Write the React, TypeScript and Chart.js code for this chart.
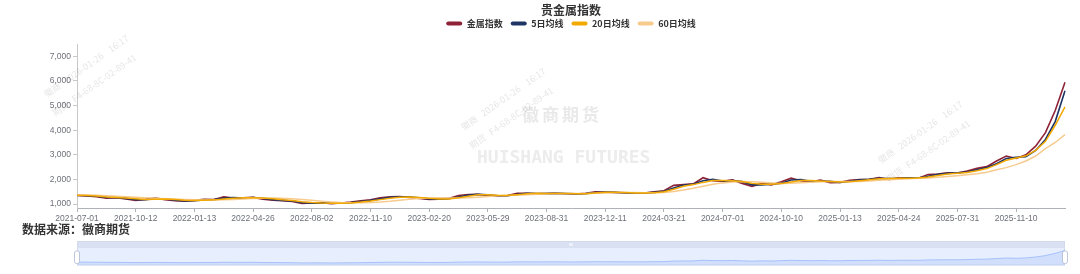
import React, { useEffect, useRef } from 'react';
import { Chart, registerables } from 'chart.js';

Chart.register(...registerables);

// ---------------- data ----------------
const CATEGORIES = [
  '2021-07-01', '2021-07-16', '2021-08-02', '2021-08-17', '2021-09-01', '2021-09-16',
  '2021-10-12', '2021-10-27', '2021-11-11', '2021-11-26', '2021-12-13', '2021-12-28',
  '2022-01-13', '2022-01-28', '2022-02-22', '2022-03-09', '2022-03-24', '2022-04-08',
  '2022-04-26', '2022-05-17', '2022-06-01', '2022-06-16', '2022-07-01', '2022-07-18',
  '2022-08-02', '2022-08-17', '2022-09-01', '2022-09-16', '2022-10-10', '2022-10-25',
  '2022-11-10', '2022-11-25', '2022-12-12', '2022-12-27', '2023-01-11', '2023-02-01',
  '2023-02-20', '2023-03-07', '2023-03-22', '2023-04-07', '2023-04-24', '2023-05-12',
  '2023-05-29', '2023-06-13', '2023-06-30', '2023-07-17', '2023-08-01', '2023-08-16',
  '2023-08-31', '2023-09-15', '2023-10-09', '2023-10-24', '2023-11-08', '2023-11-23',
  '2023-12-11', '2023-12-26', '2024-01-10', '2024-01-25', '2024-02-08', '2024-03-06',
  '2024-03-21', '2024-04-08', '2024-04-23', '2024-05-13', '2024-05-28', '2024-06-13',
  '2024-07-01', '2024-07-16', '2024-07-31', '2024-08-15', '2024-08-30', '2024-09-13',
  '2024-10-10', '2024-10-25', '2024-11-11', '2024-11-26', '2024-12-11', '2024-12-26',
  '2025-01-13', '2025-02-05', '2025-02-20', '2025-03-07', '2025-03-24', '2025-04-08',
  '2025-04-24', '2025-05-15', '2025-05-30', '2025-06-17', '2025-07-02', '2025-07-16',
  '2025-07-31', '2025-08-14', '2025-08-29', '2025-09-15', '2025-09-26', '2025-10-24',
  '2025-11-10', '2025-11-25', '2025-12-10', '2025-12-25', '2026-01-12', '2026-01-26',
];

const INDEX_VALUES = [
  1350, 1330, 1300, 1240, 1260, 1210, 1150, 1190, 1240, 1180,
  1140, 1120, 1150, 1190, 1180, 1290, 1240, 1250, 1270, 1200,
  1160, 1140, 1110, 1020, 1040, 1050, 1010, 1040, 1080, 1130,
  1170, 1250, 1290, 1300, 1270, 1230, 1190, 1200, 1230, 1350,
  1390, 1400, 1350, 1330, 1350, 1440, 1440, 1420, 1430, 1440,
  1420, 1410, 1440, 1500, 1480, 1470, 1450, 1440, 1450, 1500,
  1540, 1760, 1790, 1820, 2070, 1950, 1920, 1980, 1840, 1720,
  1840, 1780, 1910, 2050, 1950, 1900, 1970, 1870, 1880, 1970,
  2000, 2010, 2080, 2000, 2070, 2060, 2050, 2200, 2220, 2270,
  2260, 2340, 2450, 2520, 2750, 2950, 2850, 3000, 3350, 3900,
  4800, 5950,
];

const MA5_VALUES = [
  1355, 1340, 1315, 1270, 1255, 1230, 1180, 1175, 1215, 1205,
  1160, 1130, 1140, 1170, 1185, 1240, 1260, 1245, 1260, 1230,
  1180, 1150, 1125, 1060, 1035, 1045, 1030, 1030, 1060, 1105,
  1150, 1210, 1270, 1295, 1285, 1250, 1210, 1195, 1215, 1290,
  1370, 1395, 1375, 1340, 1340, 1395, 1440, 1430, 1425, 1435,
  1430, 1415, 1425, 1470, 1490, 1475, 1460, 1445, 1445, 1475,
  1520, 1650, 1775, 1805, 1945, 2010, 1935, 1950, 1910, 1780,
  1780, 1810, 1845, 1980, 2000, 1925, 1935, 1920, 1875, 1925,
  1985, 2005, 2045, 2040, 2035, 2065, 2055, 2125, 2210, 2245,
  2265, 2300, 2395, 2485, 2635, 2850, 2900, 2925, 3175, 3625,
  4350, 5600,
];

const MA20_VALUES = [
  1360, 1345, 1325, 1290, 1265, 1245, 1215, 1190, 1195, 1205,
  1185, 1150, 1140, 1155, 1170, 1210, 1235, 1255, 1255, 1245,
  1215, 1175, 1145, 1095, 1060, 1040, 1035, 1035, 1045, 1080,
  1125, 1180, 1235, 1280, 1290, 1270, 1235, 1210, 1210, 1260,
  1320, 1375, 1380, 1355, 1345, 1380, 1420, 1435, 1430, 1430,
  1430, 1420, 1420, 1450, 1475, 1480, 1465, 1450, 1445, 1460,
  1500, 1600, 1720, 1790, 1880, 1960, 1960, 1950, 1920, 1840,
  1800, 1800, 1830, 1900, 1960, 1960, 1940, 1920, 1900, 1910,
  1950, 1990, 2030, 2040, 2045, 2050, 2055, 2100, 2160, 2220,
  2250, 2285, 2350, 2440, 2600, 2780, 2870, 2960, 3180, 3550,
  4200, 4950,
];

const MA60_VALUES = [
  1370, 1365, 1355, 1340, 1320, 1300, 1280, 1255, 1235, 1220,
  1205, 1190, 1175, 1165, 1165, 1175, 1190, 1205, 1225, 1240,
  1245, 1235, 1215, 1185, 1150, 1115, 1085, 1060, 1050, 1050,
  1060, 1080, 1110, 1150, 1195, 1230, 1250, 1255, 1250, 1245,
  1255, 1280, 1310, 1335, 1350, 1365, 1380, 1395, 1410, 1425,
  1430, 1430, 1430, 1435, 1445, 1455, 1465, 1465, 1460, 1460,
  1470, 1510, 1570, 1640, 1720, 1800, 1860, 1900, 1920, 1910,
  1885, 1860, 1840, 1850, 1870, 1890, 1910, 1920, 1920, 1915,
  1920, 1940, 1965, 1990, 2010, 2030, 2045, 2060, 2085, 2115,
  2150, 2190, 2235, 2290, 2390, 2480, 2600, 2750, 2950, 3250,
  3500, 3820,
];

const SERIES_NAMES = ['金属指数', '5日均线', '20日均线', '60日均线'];
const SERIES_COLORS = ['#8E2236', '#1E3566', '#F2A900', '#F7CA8E'];
const Y_TICKS = [1000, 2000, 3000, 4000, 5000, 6000, 7000];
const Y_MIN = 840;
const Y_MAX = 7500;
const X_LABEL_EVERY = 6;
const TITLE = '贵金属指数';
const SOURCE_TEXT = '数据来源：徽商期货';

const CJK = '"Noto Sans CJK SC", "Noto Sans", sans-serif';
const AXIS_FONT = '"Liberation Sans", Arial, sans-serif';

// ---------------- plugins ----------------
const legendGap = {
  id: 'legendGap',
  beforeLayout(chart: any) {
    const lg = chart.legend;
    if (lg && !lg._gapPatched) {
      const orig = lg.fit;
      lg.fit = function () {
        orig.call(this);
        this.height += 6;
      };
      lg._gapPatched = true;
    }
  },
};

const watermark = {
  id: 'watermark',
  beforeDatasetsDraw(chart: any) {
    const ctx = chart.ctx;
    ctx.save();
    ctx.textBaseline = 'middle';
    ctx.textAlign = 'left';
    ctx.fillStyle = '#e9e9e9';
    ctx.font = `bold 17px ${CJK}`;
    try { (ctx as any).letterSpacing = '3px'; } catch (e) {}
    ctx.fillText('徽商期货', 522, 115);
    try { (ctx as any).letterSpacing = '0px'; } catch (e) {}
    ctx.fillStyle = '#ececec';
    ctx.font = 'bold 18px "DejaVu Sans Mono", monospace';
    ctx.fillText('HUISHANG FUTURES', 477, 158);

    const anchors = [[45, 95], [462, 128], [879, 161]];
    ctx.fillStyle = 'rgba(0,0,0,0.11)';
    ctx.font = `9px ${CJK}`;
    anchors.forEach(([ax, ay]) => {
      ctx.save();
      ctx.translate(ax, ay);
      ctx.rotate(-35 * Math.PI / 180);
      ctx.fillText('徽商   2026-01-26    16:17', 0, 0);
      ctx.fillText('期货   F4-68-8C-02-89-41', -4, 20);
      ctx.restore();
    });
    ctx.restore();
  },
};

const sliderFrame = {
  id: 'sliderFrame',
  beforeDatasetsDraw(chart: any) {
    const { ctx, chartArea } = chart;
    const { left, right, top, bottom } = chartArea;
    ctx.save();
    ctx.fillStyle = '#D8E0F1';
    ctx.fillRect(left, top - 7, right - left, 7);
    ctx.fillStyle = 'rgba(135,175,255,0.2)';
    ctx.fillRect(left, top, right - left, bottom - top);
    ctx.strokeStyle = '#d2dbee';
    ctx.lineWidth = 1;
    ctx.strokeRect(left + 0.5, top - 6.5, right - left - 1, bottom - top + 6);
    ctx.fillStyle = '#ffffff';
    const cx = (left + right) / 2;
    ctx.fillRect(cx - 1.5, top - 5, 1, 3);
    ctx.fillRect(cx + 0.5, top - 5, 1, 3);
    ctx.restore();
  },
  afterDraw(chart: any) {
    const { ctx, chartArea } = chart;
    const { left, right, top, bottom } = chartArea;
    ctx.save();
    [left, right].forEach((x) => {
      ctx.beginPath();
      (ctx as any).roundRect(x - 2.5, top + 3, 5, bottom - top - 5, 2);
      ctx.fillStyle = '#ffffff';
      ctx.fill();
      ctx.strokeStyle = '#ACB8D1';
      ctx.lineWidth = 0.8;
      ctx.stroke();
    });
    ctx.restore();
  },
};

export default function App() {
  const mainRef = useRef<HTMLCanvasElement | null>(null);
  const zoomRef = useRef<HTMLCanvasElement | null>(null);

  useEffect(() => {
    document.body.style.margin = '0';
    const allValues = [INDEX_VALUES, MA5_VALUES, MA20_VALUES, MA60_VALUES];
    const orders = [3, 2, 0, 1];
    const main = new Chart(mainRef.current as HTMLCanvasElement, {
      type: 'line',
      data: {
        labels: CATEGORIES,
        datasets: allValues.map((vals, i) => ({
          label: SERIES_NAMES[i],
          data: vals,
          borderColor: SERIES_COLORS[i],
          backgroundColor: SERIES_COLORS[i],
          borderWidth: i < 2 ? 1.6 : 1.5,
          pointRadius: 0,
          tension: 0,
          fill: false,
          order: orders[i],
        })),
      },
      options: {
        animation: false,
        responsive: false,
        locale: 'en-US',
        layout: { padding: { left: 40, right: 15, top: 0, bottom: 48 } },
        plugins: {
          title: {
            display: true,
            fullSize: false,
            text: TITLE,
            color: '#333',
            font: { family: CJK, size: 12, weight: 'bold', lineHeight: 2 / 12 },
            padding: { top: 9, bottom: 0 },
          },
          legend: {
            display: true,
            fullSize: false,
            position: 'top',
            labels: {
              boxWidth: 16,
              boxHeight: 4,
              useBorderRadius: true,
              borderRadius: 2,
              padding: 8,
              color: '#333',
              font: { family: CJK, size: 9, weight: 'bold' },
              sort: (a: any, b: any) => a.datasetIndex - b.datasetIndex,
              generateLabels: (chart: any) =>
                (Chart.defaults.plugins.legend.labels.generateLabels as any)(chart).map((l: any) => ({
                  ...l,
                  lineWidth: 0,
                  fillStyle: SERIES_COLORS[l.datasetIndex],
                })),
            },
          },
          tooltip: { enabled: false },
        },
        scales: {
          x: {
            type: 'category',
            afterFit: (s: any) => { s.height = 18; },
            grid: { display: true, drawOnChartArea: false, drawTicks: true, tickLength: 4, color: '#AEB1B8' },
            border: { display: true, color: '#AEB1B8' },
            ticks: {
              autoSkip: false,
              maxRotation: 0,
              minRotation: 0,
              padding: 2,
              color: '#6E7079',
              font: { family: AXIS_FONT, size: 8.5 },
              callback: function (this: any, value: any, index: number) {
                return index % X_LABEL_EVERY === 0 ? CATEGORIES[index] : null;
              },
            },
          },
          y: {
            type: 'linear',
            min: Y_MIN,
            max: Y_MAX,
            afterFit: (s: any) => { s.width = 37; },
            afterBuildTicks: (s: any) => { s.ticks = Y_TICKS.map((v) => ({ value: v })); },
            grid: { display: true, drawOnChartArea: false, drawTicks: true, tickLength: 4, color: '#C8C8C8' },
            border: { display: true, color: '#C8C8C8' },
            ticks: {
              padding: 2,
              color: '#6E7079',
              font: { family: AXIS_FONT, size: 8.5 },
              callback: (v: any) => Number(v).toLocaleString('en-US'),
            },
          },
        },
      } as any,
      plugins: [legendGap, watermark],
    });

    const slider = new Chart(zoomRef.current as HTMLCanvasElement, {
      type: 'line',
      data: {
        labels: CATEGORIES,
        datasets: [{
          data: INDEX_VALUES,
          borderColor: '#8fb0f7',
          borderWidth: 0.7,
          backgroundColor: 'rgba(143,176,247,0.25)',
          fill: 'origin',
          pointRadius: 0,
          tension: 0,
        }],
      },
      options: {
        animation: false,
        responsive: false,
        layout: { padding: { left: 77, right: 15, top: 9, bottom: 3.5 } },
        plugins: { legend: { display: false }, title: { display: false }, tooltip: { enabled: false } },
        scales: {
          x: { display: false },
          y: { display: false, min: 0, max: 6900 },
        },
      } as any,
      plugins: [sliderFrame],
    });

    return () => {
      main.destroy();
      slider.destroy();
    };
  }, []);

  return (
    <div style={{ position: 'relative', width: 1080, height: 274, background: '#fff', overflow: 'hidden' }}>
      <canvas ref={mainRef} width={1080} height={274} style={{ position: 'absolute', left: 0, top: 0 }} />
      <canvas ref={zoomRef} width={1080} height={30} style={{ position: 'absolute', left: 0, top: 239 }} />
      <div
        style={{
          position: 'absolute',
          left: 22,
          top: 221,
          fontFamily: CJK,
          fontWeight: 'bold',
          fontSize: 12,
          lineHeight: '16px',
          color: '#333',
          whiteSpace: 'nowrap',
        }}
      >
        {SOURCE_TEXT}
      </div>
    </div>
  );
}
